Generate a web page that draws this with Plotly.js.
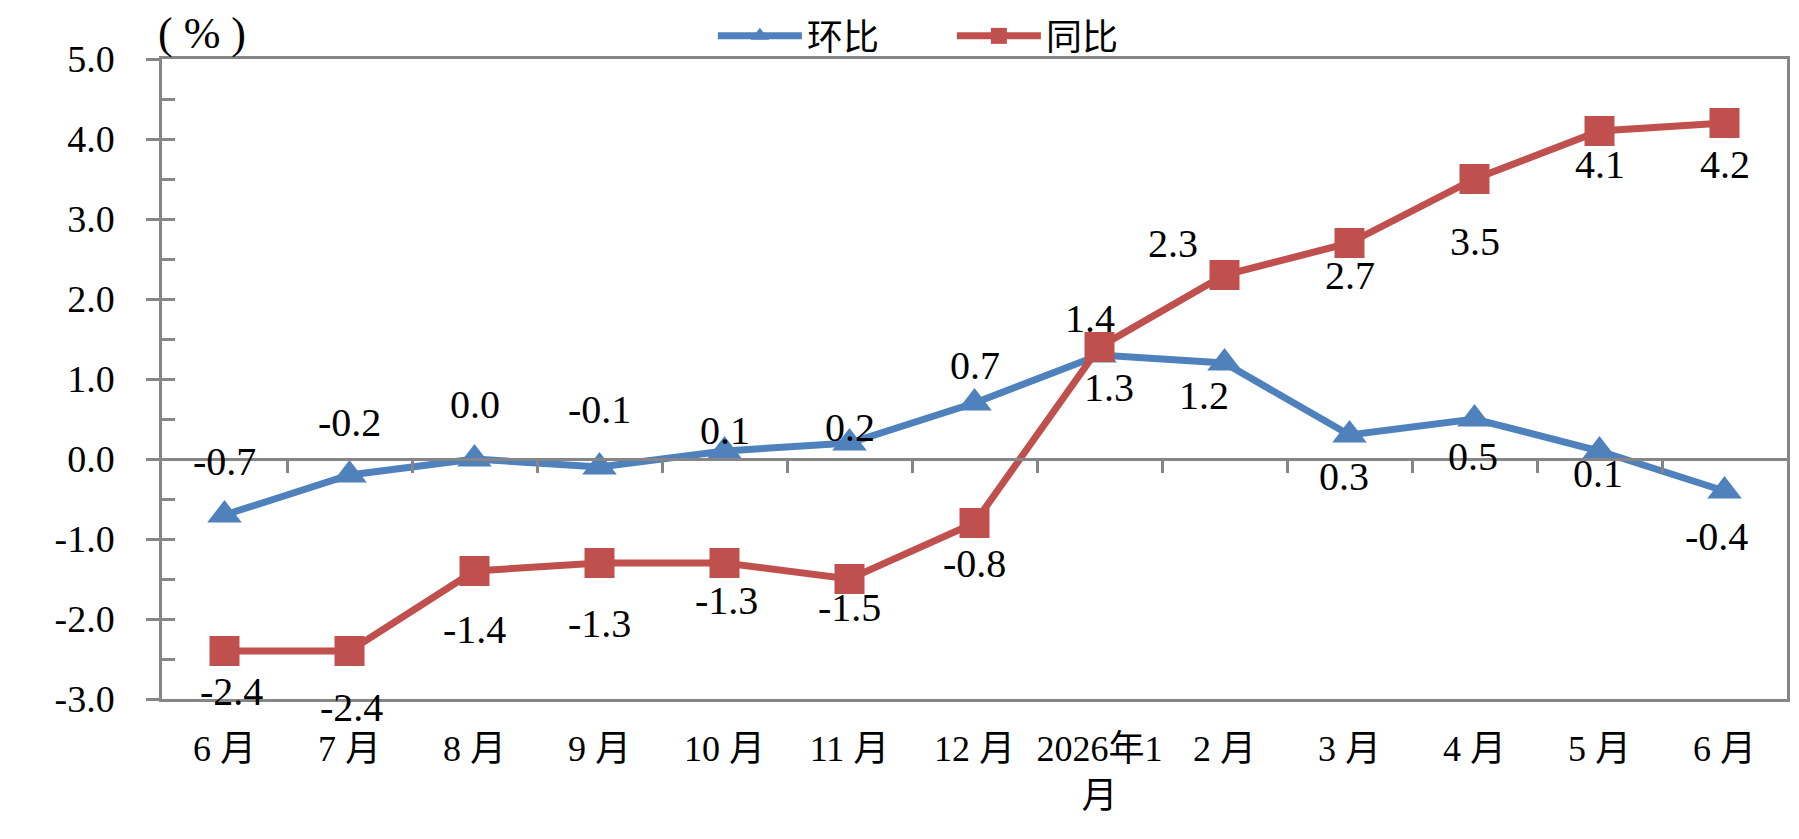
<!DOCTYPE html>
<html>
<head>
<meta charset="utf-8">
<script src="https://cdn.plot.ly/plotly-3.0.1.min.js"></script>
<style>
    html, body { margin: 0; padding: 0; background: #fff; }
    #chart { width: 1799px; height: 839px; }
</style>
</head>
<body>
<div id="chart"></div>
<script>
// Подписи месяцев
const months = ['6 月', '7 月', '8 月', '9 月', '10 月', '11 月', '12 月', '2026年1<br>月', '2 月', '3 月', '4 月', '5 月', '6 月'];
// Значения рядов, %
const hbValues = [-0.7, -0.2, 0.0, -0.1, 0.1, 0.2, 0.7, 1.3, 1.2, 0.3, 0.5, 0.1, -0.4];
const tbValues = [-2.4, -2.4, -1.4, -1.3, -1.3, -1.5, -0.8, 1.4, 2.3, 2.7, 3.5, 4.1, 4.2];
const yTicks = [-3, -2, -1, 0, 1, 2, 3, 4, 5];

// Смещения подписей данных (px): [dx, dy], dy вниз
const hbLabelShift = [[0, -54], [0, -53], [0, -55], [0, -58], [0, -21], [0, -16], [0, -38],
    [9, 32], [-21, 32], [-6, 41], [-2, 37], [-2, 22], [-8, 45]];
const tbLabelShift = [[7, 40], [2, 56], [0, 58], [0, 60], [2, 37], [0, 28], [0, 40],
    [-10, -29], [-52, -32], [0, 32], [0, 62], [0, 33], [0, 41]];

document.addEventListener('DOMContentLoaded', function() {
    const idx = months.map((m, i) => i);
    const font = 'Liberation Serif, Noto Sans CJK SC, serif';
    const gray = '#868686';
    const blue = '#4F81BD';
    const red = '#C0504D';

    const hbTrace = {
        x: idx,
        y: hbValues,
        name: '环比',
        type: 'scatter',
        mode: 'lines+markers',
        line: { color: blue, width: 7 },
        marker: { symbol: 'triangle-up', size: 30, color: blue },
        cliponaxis: false
    };

    const tbTrace = {
        x: idx,
        y: tbValues,
        name: '同比',
        type: 'scatter',
        mode: 'lines+markers',
        line: { color: red, width: 7 },
        marker: { symbol: 'square', size: 30, color: red },
        cliponaxis: false
    };

    // пустые ряды, чтобы вспомогательные оси отрисовались
    const axisX2 = { x: [], y: [], xaxis: 'x2', yaxis: 'y', showlegend: false, hoverinfo: 'skip' };
    const axisY2 = { x: [], y: [], xaxis: 'x', yaxis: 'y2', showlegend: false, hoverinfo: 'skip' };

    // Подписи данных
    const labels = [];
    hbValues.forEach((v, i) => labels.push({
        x: i, y: v, text: v.toFixed(1), showarrow: false,
        xshift: hbLabelShift[i][0], yshift: -hbLabelShift[i][1],
        font: { family: font, size: 40, color: '#000' }
    }));
    tbValues.forEach((v, i) => labels.push({
        x: i, y: v, text: v.toFixed(1), showarrow: false,
        xshift: tbLabelShift[i][0], yshift: -tbLabelShift[i][1],
        font: { family: font, size: 40, color: '#000' }
    }));
    labels.push({
        xref: 'paper', yref: 'paper', x: 0.0246, y: 1.04,
        xanchor: 'center', yanchor: 'middle',
        text: '( % )', showarrow: false,
        font: { family: font, size: 44, color: '#000' }
    });

    const layout = {
        width: 1799,
        height: 839,
        paper_bgcolor: '#fff',
        plot_bgcolor: '#fff',
        font: { family: font, color: '#000', size: 36 },
        margin: { t: 59, r: 12, b: 140, l: 162, autoexpand: false },
        showlegend: true,
        legend: {
            orientation: 'h',
            x: 0.339, xanchor: 'left',
            y: 1.036, yanchor: 'middle',
            font: { family: font, size: 36 },
            itemwidth: 84,
            entrywidth: 140,
            bgcolor: 'rgba(0,0,0,0)'
        },
        xaxis: {
            range: [-0.5, 12.5],
            tickmode: 'array',
            tickvals: idx,
            ticktext: months,
            ticks: '',
            showgrid: false,
            zeroline: false,
            showline: true,
            mirror: true,
            linecolor: gray,
            linewidth: 2.5,
            ticklabelstandoff: 16,
            tickfont: { family: font, size: 36 }
        },
        // ось на нуле с делениями между категориями
        xaxis2: {
            overlaying: 'x',
            anchor: 'free',
            position: 0.375,
            range: [-0.5, 12.5],
            tickmode: 'array',
            tickvals: idx.slice(1).map(i => i - 0.5),
            ticks: 'outside',
            ticklen: 12,
            tickwidth: 2.5,
            tickcolor: gray,
            showticklabels: false,
            showgrid: false,
            zeroline: false,
            showline: true,
            linecolor: gray,
            linewidth: 2.5
        },
        yaxis: {
            range: [-3, 5],
            tickmode: 'array',
            tickvals: yTicks,
            ticktext: yTicks.map(v => v.toFixed(1)),
            ticks: 'outside',
            ticklen: 13,
            tickwidth: 2.5,
            tickcolor: gray,
            showgrid: false,
            zeroline: false,
            showline: true,
            mirror: true,
            linecolor: gray,
            linewidth: 2.5,
            ticklabelstandoff: 24,
            tickfont: { family: font, size: 38 }
        },
        yaxis2: {
            overlaying: 'y',
            anchor: 'x',
            side: 'left',
            range: [-3, 5],
            tickmode: 'linear',
            tick0: -3,
            dtick: 0.5,
            ticks: 'inside',
            ticklen: 13,
            tickwidth: 2.5,
            tickcolor: gray,
            showticklabels: false,
            showgrid: false,
            zeroline: false,
            showline: false
        },
        annotations: labels
    };

    Plotly.newPlot('chart', [axisX2, axisY2, hbTrace, tbTrace], layout, {displayModeBar: false});
});
</script>
</body>
</html>
